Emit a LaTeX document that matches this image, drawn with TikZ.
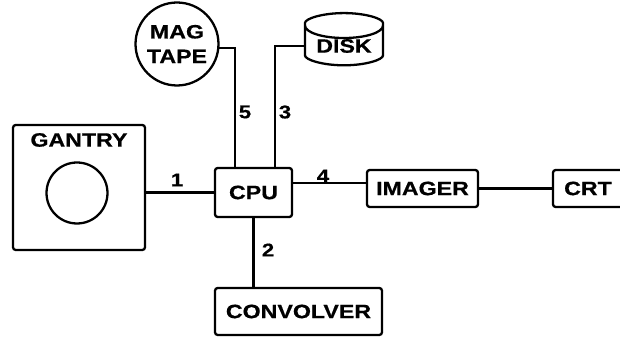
\documentclass[tikz,border=0pt]{standalone}
\usepackage{fontspec}
\newfontfamily\blockfont[FakeStretch=1.2,FakeBold=0.6]{Liberation Sans}
\usetikzlibrary{shapes.geometric}

\tikzset{unit/.style={draw, line width=1.3pt, rounded corners=1.5pt,
    inner sep=0pt, font=\blockfont\bfseries\fontsize{11}{14}\selectfont},
  wire/.style={line width=1.3pt},
  num/.style={inner sep=0pt, font=\blockfont\bfseries\fontsize{10.5}{12}\selectfont}}

\begin{document}
\begin{tikzpicture}[x=0.02cm,y=-0.02cm]
    \useasboundingbox (0,0) rectangle (620,337); \clip (0,0) rectangle (620,337);
    \node[unit, minimum width=2.64cm, minimum height=2.5cm] (gantry) at (79,187.5) {};
    \node[num, font=\blockfont\bfseries\fontsize{11}{14}\selectfont] (gantrylbl)
    at (79,140) {GANTRY}; \node[unit, circle, minimum size=1.22cm] (ring)
    at (77,193) {};
    \node[unit, minimum width=1.54cm, minimum height=0.98cm] (cpu) at (253.5,192.5) {CPU};
    \node[unit, minimum width=2.22cm, minimum height=0.74cm] (imager) at (422.5,188.5) {IMAGER};
    \node[unit, minimum width=1.40cm, minimum height=0.74cm] (crt) at (588,188.5) {CRT};
    \node[unit, minimum width=3.34cm, minimum height=0.94cm] (convolver) at (298.5,311.5) {CONVOLVER};
    \node[unit, circle, align=center, minimum size=1.66cm] (tape) at (177,44) {MAG\\TAPE};
    \node[unit, cylinder, shape border rotate=90, aspect=0.45, minimum width=1.56cm,
    minimum height=0.76cm] (disk) at (344,46) {DISK};
    % connectors
    \coordinate (cpuout) at ([yshift=0.19cm]cpu.east);
    \draw[wire] (cpu.west -| gantry.east) -- (cpu.west);
    \draw[wire] (cpuout) -- (cpuout -| imager.west);
    \draw[wire] (imager.east) -- (crt.west);
    \draw[wire] (cpu.south) -- (cpu.south |- convolver.north);
    \draw[wire] (tape.-5) -| ([xshift=-0.37cm]cpu.north);
    \draw[wire] (disk.180) -| ([xshift=0.43cm]cpu.north);
    \node[num] (n1) at (177,180) {1}; \node[num] (n4) at (323,176) {4};
    \node[num] (n5) at (245,112) {5}; \node[num] (n3) at (285,112) {3};
    \node[num] (n2) at (268,250) {2};
  \end{tikzpicture}
\end{document}
